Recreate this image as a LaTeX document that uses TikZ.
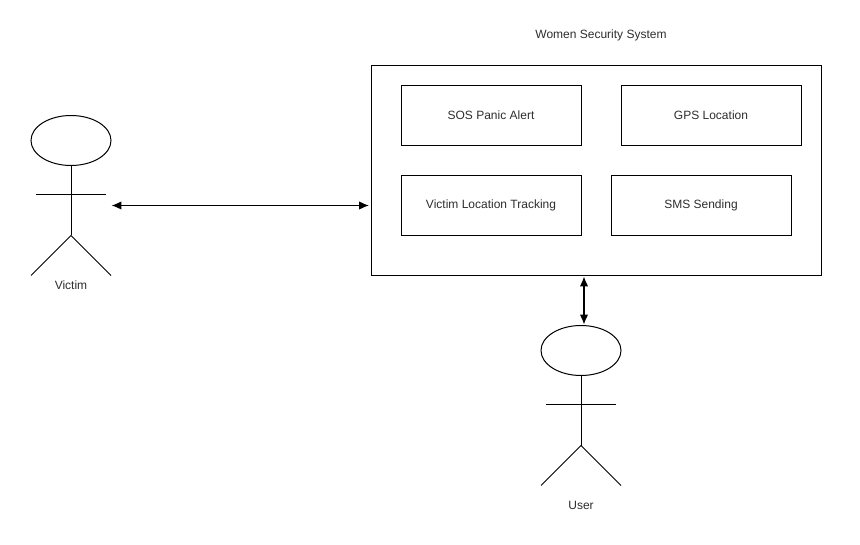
\documentclass[tikz,border=0pt]{standalone}
\usepackage{fontspec}
\setmainfont{Liberation Sans}
\usetikzlibrary{arrows.meta,positioning,shapes.geometric}
\definecolor{LabelGray}{RGB}{45,45,45}
\tikzset{
  sysbox/.style={draw,line width=0.75pt,minimum width=337.5pt,minimum height=157.5pt,inner sep=0pt},
  featbox/.style={draw,line width=0.75pt,minimum width=135pt,minimum height=45pt,inner sep=0pt,
    text=LabelGray,font=\fontsize{9pt}{11pt}\selectfont},
  headnode/.style={draw,ellipse,line width=0.75pt,minimum width=60pt,minimum height=37.5pt,inner sep=0pt},
  caption/.style={text=LabelGray,font=\fontsize{9pt}{11pt}\selectfont,inner sep=0pt},
  biarrow/.style={{Latex[length=2.6mm,width=2.2mm]}-{Latex[length=2.6mm,width=2.2mm]},line width=0.85pt}
}
\newcommand{\stickactor}[3]{%
  \node[headnode] (#1head) at (#2,#3) {};
  \coordinate (#1hip) at (#2,#3+95);
  \coordinate (#1lefthand) at (#2-35,#3+54);
  \coordinate (#1righthand) at (#2+35,#3+54);
  \coordinate (#1leftfoot) at (#2-40,#3+135);
  \coordinate (#1rightfoot) at (#2+40,#3+135);
  \draw[line width=0.75pt] (#1head.south)--(#1hip);
  \draw[line width=0.75pt] (#1lefthand)--(#1righthand);
  \draw[line width=0.75pt] (#1leftfoot)--(#1hip)--(#1rightfoot);}

\begin{document}
\begin{tikzpicture}[x=0.75pt,y=-0.75pt]
  \useasboundingbox (0,-0.5) rectangle (860,544.5);
  \node[caption] (title) at (601,35) {Women Security System};
  \node[sysbox] (system) at (596,170) {};
  \node[featbox] (sos) at (491,115) {SOS Panic Alert};
  \node[featbox] (gps) at (711,115) {GPS Location};
  \node[featbox] (tracking) at (491,205) {Victim Location Tracking};
  \node[featbox] (sms) at (701,205) {SMS Sending};
  \stickactor{victim}{71}{140}
  \stickactor{user}{581}{350}
  \node[caption] (victimlabel) at (71,285) {Victim};
  \node[caption] (userlabel) at (581,505) {User};
  \coordinate (victimport) at (111.5,205);
  \coordinate (systemport) at (369,205);
  \coordinate (systemfoot) at (584,276);
  \coordinate (usertop) at (584,324);
  \draw[biarrow] (victimport)--(systemport);
  \draw[biarrow] (systemfoot)--(usertop);
\end{tikzpicture}
\end{document}
